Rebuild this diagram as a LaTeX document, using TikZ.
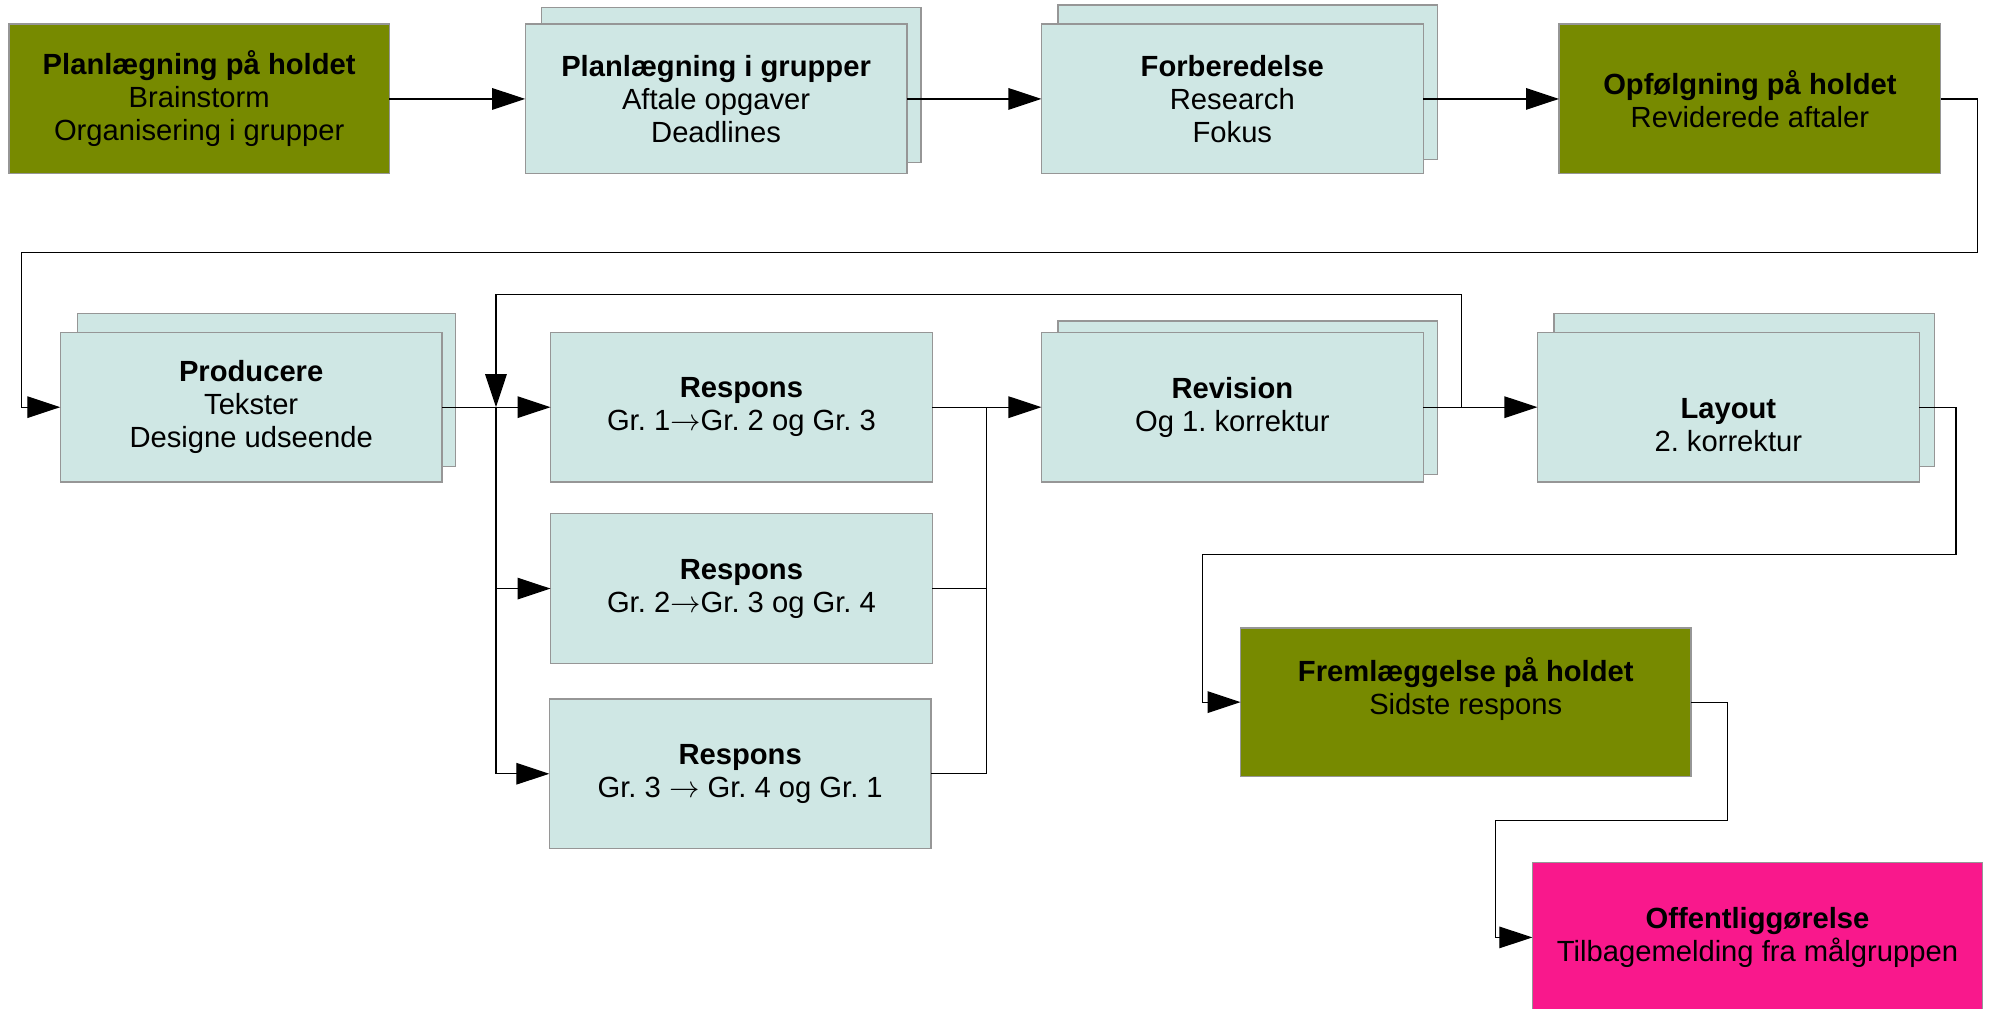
\documentclass[tikz,border=0pt]{standalone}
\usepackage{fontspec}
\setmainfont{Liberation Sans}
\frenchspacing
\usetikzlibrary{arrows.meta,positioning}

\definecolor{holdgreen}{RGB}{119,138,0}
\definecolor{groupblue}{RGB}{207,231,228}
\definecolor{publishpink}{RGB}{249,24,140}
\definecolor{cardborder}{RGB}{150,150,150}

\newcommand{\grto}{\ensuremath{\rightarrow}}

\tikzset{
    stage/.style={draw=cardborder, line width=0.5pt, fill=groupblue,
        minimum width=150.5pt, minimum height=59pt, inner sep=0pt, outer sep=0pt,
        align=center, font=\fontsize{11.5}{13}\selectfont},
    holdstage/.style={stage, fill=holdgreen},
    pubstage/.style={stage, fill=publishpink},
    backcard/.style={draw=cardborder, line width=0.5pt, fill=groupblue},
    link/.style={line width=0.45pt},
    flow/.style={link, -{Triangle[length=13pt,width=8.5pt]}},
}

\begin{document}
\begin{tikzpicture}[x=0.5pt, y=-0.5pt]

    % Fix the page size
    \useasboundingbox (0,0) rectangle (1568,795);

    % Draw the cards lying behind the group stages
    \draw[backcard] (427,6) rectangle (726,128);
    \draw[backcard] (834,4) rectangle (1133,126);
    \draw[backcard] (61,247) rectangle (359,368);
    \draw[backcard] (834,253) rectangle (1133,374);
    \draw[backcard] (1225,247) rectangle (1525,368);

    % Top row
    \node[holdstage, minimum width=150pt] (plan) at (157,78)
        {\textbf{Planlægning på holdet}\\Brainstorm\\Organisering i grupper};
    \node[stage] (groups) at (564.5,78)
        {\textbf{Planlægning i grupper}\\Aftale opgaver\\Deadlines};
    \node[stage] (prep) at (971.5,78)
        {\textbf{Forberedelse}\\Research\\Fokus};
    \node[holdstage] (follow) at (1379.5,78)
        {\textbf{Opfølgning på holdet}\\Reviderede aftaler};

    % Middle row
    \node[stage] (produce) at (198,321)
        {\textbf{Producere}\\Tekster\\Designe udseende};
    \node[stage] (resp1) at (584.5,321)
        {\textbf{Respons}\\Gr. 1\grto Gr. 2 og Gr. 3};
    \node[stage] (resp2) at (584.5,464)
        {\textbf{Respons}\\Gr. 2\grto Gr. 3 og Gr. 4};
    \node[stage] (resp3) at (583.5,610)
        {\textbf{Respons}\\Gr. 3 \grto\ Gr. 4 og Gr. 1};
    \node[stage] (revision) at (971.5,321)
        {\textbf{Revision}\\Og 1. korrektur};
    \node[stage] (layout) at (1362.5,321)
        {\strut\\\textbf{Layout}\\2. korrektur};

    % Bottom stages
    \node[holdstage, minimum width=177.5pt, minimum height=58.5pt] (present) at (1155.5,553.5)
        {\textbf{Fremlæggelse på holdet}\\Sidste respons\\\mbox{}};
    \node[pubstage, minimum width=177.5pt] (publish) at (1385.5,739)
        {\textbf{Offentliggørelse}\\Tilbagemelding fra målgruppen};

    % Bends of the connectors
    \coordinate (wrapA) at (1559,199);
    \coordinate (wrapB) at (17,199);
    \coordinate (split) at (391,321);
    \coordinate (merge) at (778,321);
    \coordinate (loop) at (1152,232);
    \coordinate (wrapC) at (1542,437);
    \coordinate (wrapD) at (948,437);
    \coordinate (wrapE) at (1362,647);
    \coordinate (wrapF) at (1179,647);

    % Draw the top row arrows
    \draw[flow] (plan) -- (groups);
    \draw[flow] (groups) -- (prep);
    \draw[flow] (prep) -- (follow);
    \draw[flow] (follow.east) -| (wrapA) -- (wrapB) |- (produce.west);

    % Draw the split into the three responses
    \draw[flow] (produce) -- (resp1);
    \draw[flow] (split) |- (resp2.west);
    \draw[flow] (split) |- (resp3.west);

    % Draw the merge into the revision
    \draw[link] (resp2.east) -| (merge);
    \draw[link] (resp3.east) -| (merge);
    \draw[flow] (resp1) -- (revision);

    % Draw the loop back from the revision
    \draw[flow] (revision.east) -| (loop) -| (split);
    \draw[flow] (revision) -- (layout);

    % Draw the last steps
    \draw[flow] (layout.east) -| (wrapC) -- (wrapD) |- (present.west);
    \draw[flow] (present.east) -| (wrapE) -- (wrapF) |- (publish.west);

\end{tikzpicture}
\end{document}
